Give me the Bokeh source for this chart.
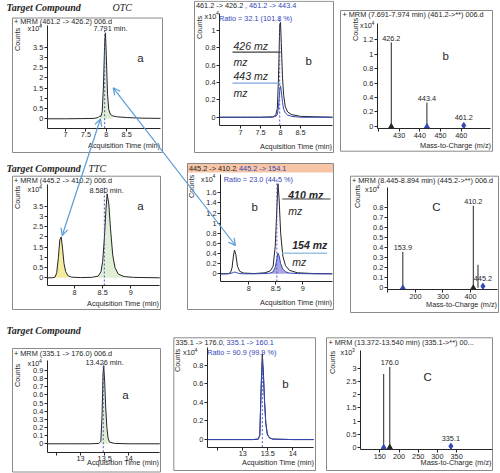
import math
from bokeh.plotting import figure
from bokeh.models import Range1d, LinearAxis, FixedTicker, CustomJSTickFormatter, Arrow, OpenHead
from bokeh.core.properties import value
from bokeh.embed import file_html
from bokeh.resources import INLINE

# ============================== DATA ==============================
# ---- Row 1 : OTC, precursor 461.2 ----
otc_a_time = [6.55, 7.00, 7.40, 7.70, 7.80, 7.84, 7.87, 7.90, 7.93, 7.96, 7.98, 8.00, 8.03, 8.06, 8.10, 8.16, 8.25, 8.50, 8.90, 9.33]
otc_a_426 = [0.00, 0.00, 0.01, 0.02, 0.06, 0.14, 0.12, 0.35, 1.60, 3.70, 4.20, 3.10, 1.20, 0.45, 0.22, 0.14, 0.10, 0.06, 0.03, 0.02]
otc_a_window = [7.84, 8.16]
otc_a_rt = 7.96

otc_b_time = [6.475, 7.00, 7.50, 7.80, 7.88, 7.92, 7.95, 7.98, 8.00, 8.02, 8.05, 8.08, 8.12, 8.18, 8.28, 8.50, 9.30]
otc_b_426 = [0.00, 0.00, 0.00, 0.005, 0.02, 0.10, 0.45, 1.05, 1.09, 0.85, 0.45, 0.25, 0.12, 0.06, 0.03, 0.01, 0.00]
otc_b_443 = [0.00, 0.00, 0.00, 0.00, 0.01, 0.03, 0.12, 0.30, 0.36, 0.30, 0.17, 0.09, 0.05, 0.025, 0.01, 0.00, 0.00]
otc_b_rt = 7.98

otc_c_mz = [426.2, 443.4]
otc_c_counts = [1.16, 0.33]
otc_c_prec_mz = [461.2]
otc_c_prec_counts = [0.014]

# ---- Row 2 : TTC, precursor 445.2 ----
ttc_a_time = [7.51, 7.60, 7.65, 7.68, 7.71, 7.735, 7.76, 7.785, 7.81, 7.84, 7.88, 7.95, 8.10, 8.30, 8.42, 8.47,
              8.50, 8.53, 8.56, 8.58, 8.61, 8.64, 8.68, 8.72, 8.78, 8.88, 9.05, 9.52]
ttc_a_410 = [0.00, 0.00, 0.03, 0.25, 1.00, 1.85, 2.00, 1.40, 0.70, 0.30, 0.10, 0.03, 0.01, 0.02, 0.08, 0.30,
             0.80, 1.90, 3.40, 4.10, 3.60, 2.40, 1.10, 0.50, 0.18, 0.06, 0.02, 0.00]
ttc_a_window1 = [7.65, 7.88]
ttc_a_window2 = [8.42, 8.88]
ttc_a_rt = 8.53

ttc_b_time = [7.476, 7.60, 7.66, 7.69, 7.715, 7.735, 7.76, 7.79, 7.83, 7.90, 8.10, 8.30, 8.40, 8.45, 8.49,
              8.52, 8.54, 8.56, 8.59, 8.63, 8.68, 8.75, 8.90, 9.20, 9.544]
ttc_b_410 = [0.00, 0.00, 0.02, 0.12, 0.35, 0.47, 0.38, 0.15, 0.05, 0.015, 0.005, 0.02, 0.06, 0.15, 0.55,
             1.30, 1.78, 1.50, 0.80, 0.35, 0.16, 0.07, 0.02, 0.005, 0.00]
ttc_b_154 = [0.00, 0.00, 0.005, 0.015, 0.028, 0.032, 0.03, 0.015, 0.005, 0.00, 0.00, 0.005, 0.015, 0.04, 0.13,
             0.30, 0.41, 0.36, 0.20, 0.09, 0.04, 0.015, 0.005, 0.00, 0.00]
ttc_b_window = [8.40, 8.75]
ttc_b_rt = 8.52

ttc_c_mz = [153.9, 410.2, 427.2]
ttc_c_counts = [0.36, 0.82, 0.23]
ttc_c_labelled = [True, True, False]
ttc_c_prec_mz = [445.2]
ttc_c_prec_counts = [0.016]

# ---- Row 3 : precursor 335.1 ----
c_a_time = [12.31, 12.80, 13.20, 13.38, 13.42, 13.445, 13.465, 13.48, 13.50, 13.52, 13.545, 13.57, 13.60, 13.70, 14.00, 14.64]
c_a_176 = [0.00, 0.00, 0.00, 0.005, 0.03, 0.35, 0.85, 0.96, 0.75, 0.45, 0.20, 0.07, 0.02, 0.005, 0.00, 0.00]
c_a_window = [13.42, 13.60]
c_a_rt = 13.47

c_b_time = [12.288, 12.80, 13.20, 13.31, 13.34, 13.365, 13.39, 13.41, 13.435, 13.46, 13.49, 13.53, 13.60, 14.00, 14.42]
c_b_176 = [0.00, 0.00, 0.00, 0.005, 0.05, 0.55, 0.92, 0.75, 0.42, 0.18, 0.06, 0.02, 0.005, 0.00, 0.00]
c_b_160 = [0.00, 0.00, 0.00, 0.005, 0.045, 0.50, 0.84, 0.70, 0.40, 0.17, 0.055, 0.02, 0.005, 0.00, 0.00]
c_b_rt = 13.39

c_c_mz = [160.1, 176.0]
c_c_counts = [2.80, 3.07]
c_c_labelled = [False, True]
c_c_prec_mz = [335.1]
c_c_prec_counts = [0.04]

# ---- tick values ----
a1_xticks = [7, 7.5, 8, 8.5]
a1_yticks = [0, 0.5, 1, 1.5, 2, 2.5, 3, 3.5]
a2_xticks = [7, 7.5, 8, 8.5]
a2_yticks = [0, 0.2, 0.4, 0.6, 0.8, 1]
a3_xticks = [420, 430, 440, 450, 460]
a3_yticks = [0, 0.2, 0.4, 0.6, 0.8, 1, 1.2]
b1_xticks = [8, 8.5, 9]
b1_yticks = [0, 0.5, 1, 1.5, 2, 2.5, 3, 3.5]
b2_xticks = [8, 8.5, 9]
b2_yticks = [0, 0.2, 0.4, 0.6, 0.8, 1, 1.2, 1.4, 1.6]
b3_xticks = [100, 200, 300, 400]
b3_yticks = [0, 0.1, 0.2, 0.3, 0.4, 0.5, 0.6, 0.7, 0.8]
c1_xticks = [12.5, 13, 13.5, 14]
c1_yticks = [0, 0.1, 0.2, 0.3, 0.4, 0.5, 0.6, 0.7, 0.8, 0.9]
c2_xticks = [12.5, 13, 13.5, 14]
c2_yticks = [0, 0.2, 0.4, 0.6, 0.8]
c3_xticks = [150, 200, 250, 300, 350]
c3_yticks = [0, 0.5, 1, 1.5, 2, 2.5, 3]

# ============================== STYLE / LAYOUT ==============================
REF_W, REF_H = 500, 473
SANS = "Liberation Sans"
SERIF = "Liberation Serif"
INK = "#262626"
BLUE = "#3546b8"
RT_COL = "#4a58c8"
GREEN = "#dfeed5"
YELLOW = "#f5ec9f"
LAVENDER = "#aaa5dc"
ARROW = "#5b9bd5"
BOX = "#8a8a8a"
FS = 7.3

p = figure(width=REF_W, height=REF_H, x_range=Range1d(0, REF_W), y_range=Range1d(REF_H, 0),
           output_backend="svg", toolbar_location=None, x_axis_location=None, y_axis_location=None,
           min_border=0, outline_line_color=None, background_fill_color="white",
           border_fill_color="white")
p.grid.visible = False

# panel name, plot-area box in page pixels (left, right, top, bottom), x data range, y data range,
# x ticks, y ticks, x ticks without label
panels = [
    ("A1", (46.7, 160.0, 25.0, 127.7), (6.55, 9.33), (-0.46, 4.56), a1_xticks, a1_yticks, []),
    ("A2", (219.0, 332.0, 13.3, 125.0), (6.475, 9.30), (-0.095, 1.19), a2_xticks, a2_yticks, []),
    ("A3", (376.7, 490.0, 23.3, 128.3), (419.4, 474.1), (-0.032, 1.417), a3_xticks, a3_yticks, [420]),
    ("B1", (46.7, 159.3, 184.3, 285.0), (7.51, 9.52), (-0.376, 4.54), b1_xticks, b1_yticks, []),
    ("B2", (220.0, 331.7, 174.3, 281.0), (7.476, 9.544), (-0.152, 1.957), b2_xticks, b2_yticks, []),
    ("B3", (386.7, 496.7, 186.7, 289.0), (97.1, 497.1), (-0.017, 1.006), b3_xticks, b3_yticks, [100]),
    ("C1", (46.7, 159.3, 360.0, 451.7), (12.31, 14.64), (-0.103, 1.022), c1_xticks, c1_yticks, [12.5]),
    ("C2", (206.7, 313.3, 347.3, 446.7), (12.288, 14.42), (-0.082, 0.987), c2_xticks, c2_yticks, [12.5]),
    ("C3", (360.0, 491.7, 350.0, 449.0), (99.7, 442.7), (-0.088, 3.70), c3_xticks, c3_yticks, []),
]
yr_of = {}
xr_extra, yr_extra = {}, {}
for name, (L, R, T, B), (x0, x1), (y0, y1), xt, yt, xh in panels:
    sx = (x1 - x0) / (R - L)
    sy = (y1 - y0) / (B - T)
    xr_extra[name] = Range1d(x0 - L * sx, x0 + (REF_W - L) * sx)
    yr_extra[name] = Range1d(y0 - (REF_H - B) * sy, y0 + B * sy)
    yr_of[name] = (y0, y1)
p.extra_x_ranges = xr_extra
p.extra_y_ranges = yr_extra

# panel frames
boxes_l = [12, 194, 340, 12, 187, 350, 12, 173.3, 326]
boxes_r = [162, 333, 492, 160, 333, 498, 160, 315, 492]
boxes_t = [17.5, 0.8, 10, 175.7, 163, 175.7, 348, 337.3, 337.3]
boxes_b = [152, 152, 150.7, 309, 309, 312, 471.5, 470, 470]
p.quad(left=[187], right=[333], top=[163], bottom=[172], fill_color="#f7c4a5", line_color=None)
p.quad(left=boxes_l, right=boxes_r, top=boxes_t, bottom=boxes_b, fill_color=None, line_color=BOX, line_width=1)

JS_FMT = "return String(Number(tick.toFixed(3)));"


def style_axis(ax):
    ax.axis_line_color = INK
    ax.axis_line_width = 1
    ax.major_tick_line_color = INK
    ax.major_tick_out = 3
    ax.major_tick_in = 0
    ax.minor_tick_line_color = None
    ax.major_label_text_font = SANS
    ax.major_label_text_font_size = f"{FS}px"
    ax.major_label_text_color = INK
    ax.major_label_standoff = 1


for name, px, (x0, x1), (y0, y1), xt, yt, xh in panels:
    xa = LinearAxis(x_range_name=name, y_range_name=name, fixed_location=y0, bounds=(x0, x1),
                    ticker=FixedTicker(ticks=xt), formatter=CustomJSTickFormatter(code=JS_FMT),
                    major_label_overrides={h: "" for h in xh})
    style_axis(xa)
    p.add_layout(xa, "below")
    ya = LinearAxis(x_range_name=name, y_range_name=name, fixed_location=x0, bounds=(y0, y1),
                    ticker=FixedTicker(ticks=yt), formatter=CustomJSTickFormatter(code=JS_FMT))
    style_axis(ya)
    p.add_layout(ya, "left")


def chrom_fill(name, t, y, window, color):
    xs = [ti for ti in t if window[0] <= ti <= window[1]]
    ys = [yi for ti, yi in zip(t, y) if window[0] <= ti <= window[1]]
    p.varea(x=xs, y1=[0.0] * len(xs), y2=ys, x_range_name=name, y_range_name=name,
            fill_color=color, fill_alpha=1.0)


def chrom(name, t, y, color, width=1.0):
    p.line(x=t, y=y, x_range_name=name, y_range_name=name, line_color=color, line_width=width)


def rt_line(name, rt):
    y0, y1 = yr_of[name]
    p.segment(x0=[rt], y0=[y0], x1=[rt], y1=[y1 * 0.97], x_range_name=name, y_range_name=name,
              line_color=RT_COL, line_dash="2 2", line_width=1)


def spectrum(name, mz, counts, tri_colors, labelled, prec_mz, prec_counts):
    n = len(mz)
    p.segment(x0=mz, y0=[0] * n, x1=mz, y1=counts, x_range_name=name, y_range_name=name,
              line_color=INK, line_width=1.0)
    p.scatter(x=mz[:len(tri_colors)], y=[0] * len(tri_colors), marker="triangle", size=5,
              fill_color=tri_colors, line_color=tri_colors, x_range_name=name, y_range_name=name)
    p.scatter(x=prec_mz, y=prec_counts, marker="diamond", size=6, fill_color=BLUE, line_color=BLUE,
              x_range_name=name, y_range_name=name)
    lx = [m for m, l in zip(mz, labelled) if l]
    ly = [c for c, l in zip(counts, labelled) if l]
    p.text(x=lx, y=ly, text=[f"{m:.1f}" for m in lx], x_range_name=name, y_range_name=name,
           text_font=value(SANS), text_font_size=f"{FS}px", text_color=INK, text_align="center",
           text_baseline="bottom", y_offset=-1.5)
    p.text(x=prec_mz, y=prec_counts, text=[f"{m:.1f}" for m in prec_mz], x_range_name=name,
           y_range_name=name, text_font=value(SANS), text_font_size=f"{FS}px", text_color=INK,
           text_align="center", text_baseline="bottom", y_offset=-5)


# ---- Row 1 ----
chrom_fill("A1", otc_a_time, otc_a_426, otc_a_window, GREEN)
chrom("A1", otc_a_time, otc_a_426, INK)
rt_line("A1", otc_a_rt)
chrom("A2", otc_b_time, otc_b_426, INK)
chrom("A2", otc_b_time, otc_b_443, BLUE)
rt_line("A2", otc_b_rt)
spectrum("A3", otc_c_mz, otc_c_counts, [INK, BLUE], [True, True], otc_c_prec_mz, otc_c_prec_counts)

# ---- Row 2 ----
chrom_fill("B1", ttc_a_time, ttc_a_410, ttc_a_window1, YELLOW)
chrom_fill("B1", ttc_a_time, ttc_a_410, ttc_a_window2, GREEN)
chrom("B1", ttc_a_time, ttc_a_410, INK)
rt_line("B1", ttc_a_rt)
chrom_fill("B2", ttc_b_time, ttc_b_154, ttc_b_window, LAVENDER)
chrom("B2", ttc_b_time, ttc_b_410, INK)
chrom("B2", ttc_b_time, ttc_b_154, BLUE)
rt_line("B2", ttc_b_rt)
spectrum("B3", ttc_c_mz, ttc_c_counts, [BLUE, INK], ttc_c_labelled, ttc_c_prec_mz, ttc_c_prec_counts)

# ---- Row 3 ----
chrom_fill("C1", c_a_time, c_a_176, c_a_window, GREEN)
chrom("C1", c_a_time, c_a_176, INK)
rt_line("C1", c_a_rt)
chrom("C2", c_b_time, c_b_176, INK)
chrom("C2", c_b_time, c_b_160, BLUE)
rt_line("C2", c_b_rt)
spectrum("C3", c_c_mz, c_c_counts, [BLUE, INK], c_c_labelled, c_c_prec_mz, c_c_prec_counts)


# ---- texts in page-pixel space ----
def ptext(x, y, s, size=FS, color=INK, font=SANS, style="normal", align="left", baseline="middle", angle=0.0):
    p.text(x=[x], y=[y], text=[s], text_font=value(font), text_font_size=f"{size}px",
           text_color=color, text_font_style=style, text_align=align, text_baseline=baseline, angle=angle)


def counts(x, y):
    ptext(x, y, "Counts", FS, align="center", angle=math.pi / 2)


def x10(x, y, e):
    ptext(x, y, "x10", FS)
    ptext(x + 11.5, y - 3, e, 5.2)


def seg(x0, y0, x1, y1, color, w):
    p.segment(x0=[x0], y0=[y0], x1=[x1], y1=[y1], line_color=color, line_width=w)


# row 1
ptext(6, 6.5, "Target Compound", 10, font=SERIF, style="bold italic")
ptext(112, 6.5, "OTC", 10, font=SERIF, style="italic")
ptext(13.5, 21, "+ MRM (461.2 -> 426.2) 006.d")
counts(17, 39)
x10(27, 28, "4")
ptext(110, 28, "7.791 min.", align="center")
ptext(136.7, 57, "a", 11.5)
ptext(159.5, 145, "Acquisition Time (min)", align="right")

ptext(195.5, 5, "461.2 -> 426.2")
ptext(244.5, 5, ", 461.2 -> 443.4", color=BLUE)
counts(198.5, 27)
x10(204, 15.5, "4")
ptext(218.5, 17.5, "Ratio = 32.1 (101.8 %)", color=BLUE)
ptext(305, 60, "b", 11.5)
ptext(331.5, 146, "Acquisition Time (min)", align="right")
ptext(233, 45, "426 mz", 10.5, style="italic")
seg(232, 51.7, 280, 51.7, "#404040", 1.2)
ptext(233, 61, "mz", 10.5, style="italic")
ptext(233, 75, "443 mz", 10.5, style="italic")
seg(232, 82.7, 280, 82.7, "#7fa6dc", 1.2)
ptext(233, 92, "mz", 10.5, style="italic")

ptext(342, 14, "+ MRM (7.691-7.974 min) (461.2->**) 006.d")
counts(355, 29)
x10(359.5, 25, "4")
ptext(442, 55, "b", 11.5)
ptext(490.5, 145, "Mass-to-Charge (m/z)", align="right")

# row 2
ptext(6, 168, "Target Compound", 10, font=SERIF, style="bold italic")
ptext(88, 168, "TTC", 10, font=SERIF, style="italic")
ptext(13.5, 179.5, "+ MRM (445.2 -> 410.2) 006.d")
counts(16.7, 197)
x10(27, 189, "4")
ptext(106, 190, "8.580 min.", align="center")
ptext(136.7, 205, "a", 11.5)
ptext(158.5, 303.3, "Acquisition Time (min)", align="right")

ptext(188.5, 167.7, "445.2 -> 410.2")
ptext(234.5, 167.7, ", 445.2 -> 154.1", color=BLUE)
counts(190.5, 186)
x10(200.5, 178.5, "4")
ptext(223.3, 178.5, "Ratio = 23.0 (44.5 %)", color=BLUE)
ptext(251, 206.7, "b", 11.5)
ptext(287.7, 194, "410 mz", 10.5, style="bold italic")
seg(281.7, 198.5, 330, 198.5, "#7f7f7f", 1.5)
ptext(287.7, 210, "mz", 10.5, style="italic")
ptext(291.7, 244.3, "154 mz", 10.5, style="bold italic")
seg(281.7, 252.7, 326.7, 252.7, "#9dc3e6", 1.5)
ptext(291.7, 261, "mz", 10.5, style="italic")
ptext(331.5, 301.7, "Acquisition Time (min)", align="right")

ptext(351.5, 180, "+ MRM (8.445-8.894 min) (445.2->**) 006.d")
counts(356.7, 196)
x10(364.5, 189.3, "4")
ptext(431.7, 206.7, "C", 11.5)
ptext(496.5, 304.3, "Mass-to-Charge (m/z)", align="right")

# row 3
ptext(6, 330, "Target Compound", 10, font=SERIF, style="bold italic")
ptext(13.5, 352.7, "+ MRM (335.1 -> 176.0) 006.d")
counts(16.7, 375)
x10(27, 363.3, "4")
ptext(104, 361.7, "13.426 min.", align="center")
ptext(121.7, 394.3, "a", 11.5)
ptext(158.5, 461.7, "Acquisition Time (min)", align="right")

ptext(175, 342, "335.1 -> 176.0")
ptext(222, 342, ", 335.1 -> 160.1", color=BLUE)
counts(176.5, 360)
x10(182.5, 352.3, "4")
ptext(206.7, 352.3, "Ratio = 90.9 (99.9 %)", color=BLUE)
ptext(281.7, 383.3, "b", 11.5)
ptext(313.5, 461.7, "Acquisition Time (min)", align="right")

ptext(328, 342, "+ MRM (13.372-13.540 min) (335.1->**) 00...")
counts(331.5, 362)
x10(340, 352.3, "3")
ptext(423, 376.7, "C", 11.5)
ptext(491, 461.7, "Mass-to-Charge (m/z)", align="right")

# linking arrows (page space)
arrow_links = [((112.7, 87.3), (235.0, 245.0)), ((100.0, 118.3), (61.7, 235.0))]
for (xs, ys), (xe, ye) in arrow_links:
    p.add_layout(Arrow(x_start=xs, y_start=ys, x_end=xe, y_end=ye, line_color=ARROW, line_width=1.2,
                       start=OpenHead(size=7, line_color=ARROW, line_width=1.2),
                       end=OpenHead(size=7, line_color=ARROW, line_width=1.2)))

open("out.html", "w").write(file_html(p, INLINE))
